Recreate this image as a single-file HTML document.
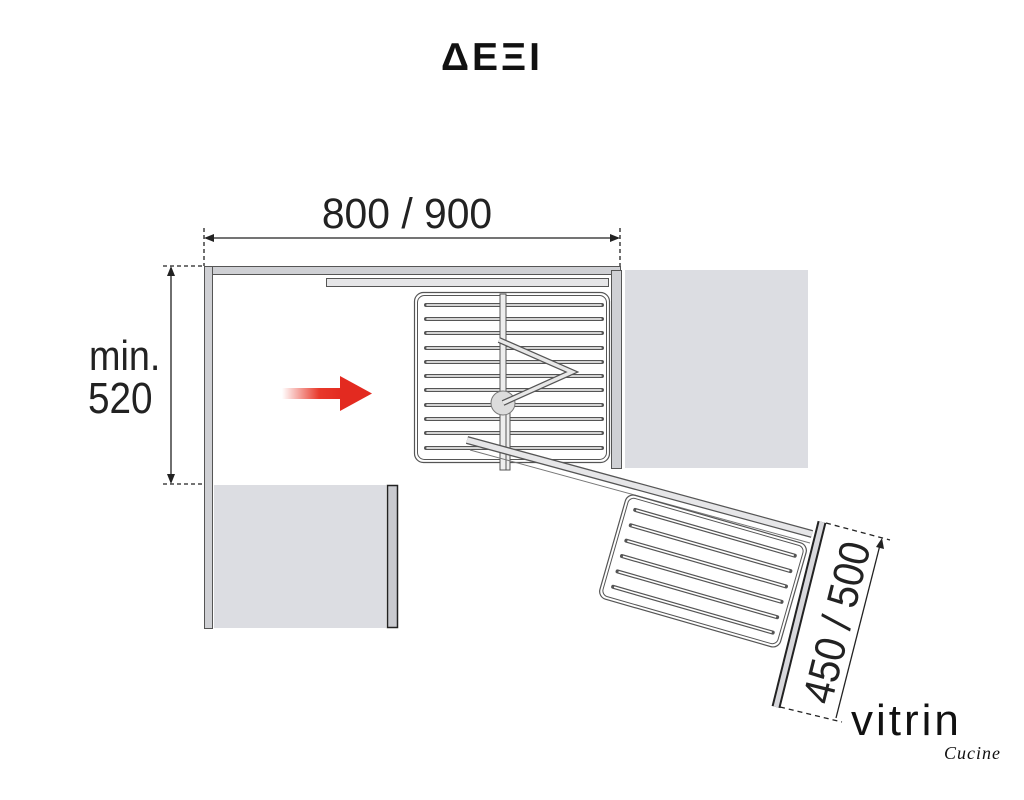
<!DOCTYPE html>
<html><head><meta charset="utf-8"><style>
html,body{margin:0;padding:0;background:#fff}
svg{display:block}
</style></head><body>
<svg width="1024" height="800" viewBox="0 0 1024 800" xmlns="http://www.w3.org/2000/svg" font-family="Liberation Sans, sans-serif">
<defs>
<linearGradient id="rg" x1="0" x2="1"><stop offset="0" stop-color="#e8392b" stop-opacity="0"/><stop offset="0.6" stop-color="#e8392b"/><stop offset="1" stop-color="#e32a20"/></linearGradient>
</defs>
<text x="492" y="70" text-anchor="middle" font-size="39" font-weight="bold" fill="#111" style="letter-spacing:3px">ΔΕΞΙ</text>

<g stroke="#222" stroke-width="1.3" fill="none">
<line x1="204" y1="228" x2="204" y2="266" stroke-dasharray="4,3"/>
<line x1="620" y1="228" x2="620" y2="266" stroke-dasharray="4,3"/>
<line x1="206" y1="238" x2="618" y2="238"/>
<line x1="163" y1="266" x2="205" y2="266" stroke-dasharray="4,3"/>
<line x1="163" y1="484" x2="205" y2="484" stroke-dasharray="4,3"/>
<line x1="171" y1="268" x2="171" y2="482"/>
</g>
<path d="M204 238 l10 -4 v8z M620 238 l-10 -4 v8z M171 266 l-4 10 h8z M171 484 l-4 -10 h8z" fill="#222"/>
<text transform="translate(407 228) scale(0.95 1)" text-anchor="middle" font-size="43" fill="#222">800 / 900</text>
<text transform="translate(89 370) scale(0.9 1)" font-size="42" fill="#222">min.</text>
<text transform="translate(88 413) scale(0.88 1)" font-size="44" fill="#222">520</text>

<rect x="625" y="270" width="183" height="198" fill="#dcdde2"/>
<rect x="214" y="485" width="172" height="143" fill="#dcdde2"/>
<rect x="387.5" y="485.5" width="10" height="142" fill="#c9cacf" stroke="#222" stroke-width="1.5"/>

<g fill="#cfd0d4" stroke="#555" stroke-width="1">
<rect x="204.5" y="266.5" width="416" height="8"/>
<rect x="204.5" y="266.5" width="8" height="362"/>
<rect x="611.5" y="270.5" width="10" height="198"/>
<rect x="326.5" y="278.5" width="282" height="8" fill="#e6e6e8"/>
</g>

<g fill="none" stroke="#555">
<rect x="414.5" y="292.5" width="195" height="170" rx="9" stroke-width="1.2"/>
<rect x="417.5" y="295.5" width="189" height="164" rx="7" stroke-width="1"/>
</g>
<g stroke="#555" stroke-width="4" stroke-linecap="round"><line x1="426" y1="305" x2="602" y2="305"/><line x1="426" y1="319" x2="602" y2="319"/><line x1="426" y1="333" x2="602" y2="333"/><line x1="426" y1="348" x2="602" y2="348"/><line x1="426" y1="362" x2="602" y2="362"/><line x1="426" y1="376" x2="602" y2="376"/><line x1="426" y1="390" x2="602" y2="390"/><line x1="426" y1="405" x2="602" y2="405"/><line x1="426" y1="419" x2="602" y2="419"/><line x1="426" y1="433" x2="602" y2="433"/><line x1="426" y1="448" x2="602" y2="448"/></g>
<g stroke="#fff" stroke-width="1.6" stroke-linecap="round"><line x1="427" y1="305" x2="601" y2="305"/><line x1="427" y1="319" x2="601" y2="319"/><line x1="427" y1="333" x2="601" y2="333"/><line x1="427" y1="348" x2="601" y2="348"/><line x1="427" y1="362" x2="601" y2="362"/><line x1="427" y1="376" x2="601" y2="376"/><line x1="427" y1="390" x2="601" y2="390"/><line x1="427" y1="405" x2="601" y2="405"/><line x1="427" y1="419" x2="601" y2="419"/><line x1="427" y1="433" x2="601" y2="433"/><line x1="427" y1="448" x2="601" y2="448"/></g>
<rect x="500" y="294" width="6" height="176" fill="#eee" stroke="#555" stroke-width="1"/>
<rect x="506" y="410" width="4" height="60" fill="#eee" stroke="#555" stroke-width="1"/>
<circle cx="503" cy="403" r="12" fill="#dcdcdc" stroke="#777"/>
<polyline points="499,340 572,372 503,403" fill="none" stroke="#555" stroke-width="6"/>
<polyline points="499,340 572,372 503,403" fill="none" stroke="#e8e8e8" stroke-width="3.5"/>

<line x1="467" y1="440" x2="812" y2="534" stroke="#555" stroke-width="8"/>
<line x1="467" y1="440" x2="812" y2="534" stroke="#e6e6e8" stroke-width="5.5"/>
<line x1="470" y1="450" x2="810" y2="543" stroke="#777" stroke-width="1"/>

<g transform="translate(703 571) rotate(16)">
<rect x="-94" y="-54" width="188" height="108" rx="8" fill="#fff" stroke="#555" stroke-width="1.2"/>
<rect x="-91" y="-51" width="182" height="102" rx="6" fill="none" stroke="#555"/>
<g stroke="#555" stroke-width="4" stroke-linecap="round"><line x1="-82" y1="-40" x2="84" y2="-40"/><line x1="-82" y1="-24" x2="84" y2="-24"/><line x1="-82" y1="-8" x2="84" y2="-8"/><line x1="-82" y1="8" x2="84" y2="8"/><line x1="-82" y1="24" x2="84" y2="24"/><line x1="-82" y1="40" x2="84" y2="40"/></g>
<g stroke="#fff" stroke-width="1.6"><line x1="-81" y1="-40" x2="83" y2="-40"/><line x1="-81" y1="-24" x2="83" y2="-24"/><line x1="-81" y1="-8" x2="83" y2="-8"/><line x1="-81" y1="8" x2="83" y2="8"/><line x1="-81" y1="24" x2="83" y2="24"/><line x1="-81" y1="40" x2="83" y2="40"/></g>
</g>

<line x1="822" y1="522" x2="776" y2="707" stroke="#222" stroke-width="9"/>
<line x1="822" y1="522" x2="776" y2="707" stroke="#d8d8dc" stroke-width="5"/>

<g stroke="#222" stroke-width="1.3" fill="none">
<line x1="826" y1="523" x2="890" y2="540" stroke-dasharray="5,4"/>
<line x1="780" y1="707" x2="842" y2="722" stroke-dasharray="5,4"/>
<line x1="880" y1="545" x2="836" y2="718"/>
</g>
<path d="M882 538 l-6 9 l8 2z" fill="#222"/>
<text transform="translate(851 626) rotate(-76) scale(0.92 1)" text-anchor="middle" font-size="43" fill="#222">450 / 500</text>

<rect x="282" y="388" width="62" height="11" fill="url(#rg)"/>
<path d="M340 376 L372 393.5 L340 411z" fill="#e32a20"/>

<text x="851" y="735" font-size="44" fill="#111" style="letter-spacing:3px">vitrin</text>
<text x="944" y="759" font-size="18" font-style="italic" fill="#111" font-family="Liberation Serif, serif" style="letter-spacing:1px">Cucine</text>
</svg>
</body></html>
